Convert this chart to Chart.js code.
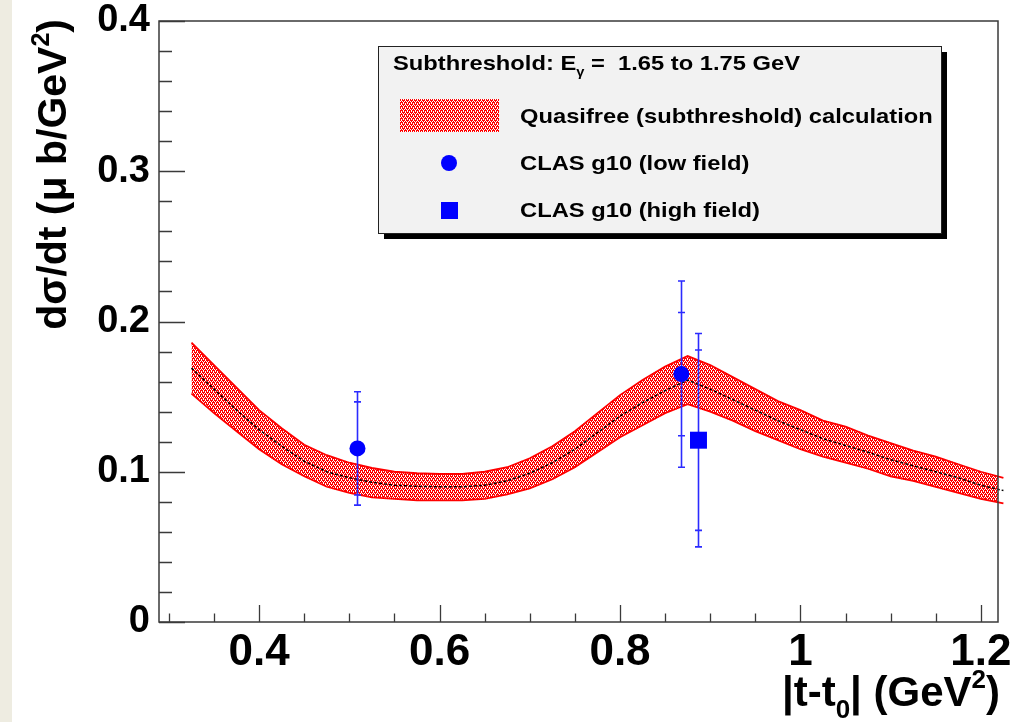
<!DOCTYPE html>
<html>
<head>
<meta charset="utf-8">
<script src="https://cdn.jsdelivr.net/npm/chart.js@4.4.1/dist/chart.umd.min.js"></script>
<style>
  html, body { margin: 0; padding: 0; }
  body {
    width: 1021px; height: 722px; overflow: hidden;
    background: linear-gradient(to right, #eeece1 0, #eeece1 12px, #ffffff 12px);
  }
  canvas { position: absolute; left: 0; top: 0; }
</style>
</head>
<body>
<canvas id="xsec" width="1021" height="722"></canvas>
<script>
// Quasifree (subthreshold) calculation: |t - t0| grid, central curve and band edges
const bandT = [0.325, 0.35, 0.375, 0.40, 0.425, 0.45, 0.475, 0.50, 0.525, 0.55, 0.575, 0.60,
  0.625, 0.65, 0.675, 0.70, 0.725, 0.75, 0.775, 0.80, 0.825, 0.85, 0.875, 0.90, 0.925,
  0.95, 0.975, 1.00, 1.025, 1.05, 1.075, 1.10, 1.125, 1.15, 1.175, 1.20, 1.225];
const bandCentre = [0.169, 0.155, 0.141, 0.128, 0.117, 0.107, 0.100, 0.096, 0.093, 0.091, 0.0903, 0.090,
  0.090, 0.091, 0.094, 0.099, 0.106, 0.115, 0.126, 0.137, 0.146, 0.154, 0.161, 0.155, 0.148,
  0.141, 0.134, 0.128, 0.122, 0.1175, 0.113, 0.108, 0.104, 0.100, 0.096, 0.091, 0.0875];
const bandUpper = [0.186, 0.171, 0.156, 0.141, 0.129, 0.118, 0.111, 0.106, 0.1025, 0.100, 0.099, 0.0985,
  0.0985, 0.100, 0.103, 0.109, 0.117, 0.127, 0.139, 0.151, 0.161, 0.170, 0.177, 0.171, 0.163,
  0.155, 0.147, 0.141, 0.134, 0.130, 0.124, 0.119, 0.114, 0.110, 0.105, 0.100, 0.096];
const bandLower = [0.152, 0.139, 0.127, 0.115, 0.105, 0.097, 0.090, 0.086, 0.083, 0.082, 0.081, 0.081,
  0.081, 0.082, 0.085, 0.089, 0.095, 0.103, 0.113, 0.123, 0.131, 0.139, 0.145, 0.140, 0.134,
  0.127, 0.121, 0.115, 0.110, 0.106, 0.102, 0.097, 0.094, 0.090, 0.086, 0.082, 0.079];

// CLAS g10 measurements: inner bars = statistical, outer bars = total uncertainty
const lowFieldT = [0.509, 0.868];
const lowFieldXsec = [0.1155, 0.165];
const lowFieldStat = [0.031, 0.041];
const lowFieldTotal = [0.0377, 0.062];
const highFieldT = [0.887];
const highFieldXsec = [0.121];
const highFieldStat = [0.060];
const highFieldTotal = [0.071];

// Axis ranges and labelled ticks
const xRange = [0.289, 1.219];
const yRange = [0, 0.4];
const xTickValues = [0.4, 0.6, 0.8, 1.0, 1.2];
const xTickLabels = ['0.4', '0.6', '0.8', '1', '1.2'];
const yTickValues = [0, 0.1, 0.2, 0.3, 0.4];
const yTickLabels = ['0', '0.1', '0.2', '0.3', '0.4'];

const legendTitle = [['Subthreshold: E', 0], ['\u03b3', -1], [' =  1.65 to 1.75 GeV', 0]];
const legendEntries = ['Quasifree (subthreshold) calculation', 'CLAS g10 (low field)', 'CLAS g10 (high field)'];
const xTitle = [['|t-t', 0], ['0', -1], ['| (GeV', 0], ['2', 1], [')', 0]];
const yTitle = [['d\u03c3/dt (\u03bc b/GeV', 0], ['2', 1], [')', 0]];

const BOLD = '"Liberation Sans", Arial, Helvetica, sans-serif';
const BLUE = '#0000ff';
const AXIS = '#3a3a3a';

// Red/white stipple used for the band fill
function makeStipple() {
  const c = document.createElement('canvas');
  c.width = 4; c.height = 4;
  const g = c.getContext('2d');
  g.fillStyle = '#ff0000';
  g.fillRect(0, 0, 4, 4);
  g.fillStyle = '#ffffff';
  [[0, 1], [2, 1], [1, 3], [3, 3], [1, 0], [3, 2]].forEach(([x, y]) => g.fillRect(x, y, 1, 1));
  return g.createPattern(c, 'repeat');
}
const stipple = makeStipple();

const toPts = (xs, ys) => xs.map((x, i) => ({ x: x, y: ys[i] }));

// Draw a run of text segments; level -1 = subscript, 1 = superscript
function drawRich(ctx, segs, x, y, size, align) {
  const parts = segs.map(([t, lvl]) => {
    const s = lvl === 0 ? size : Math.round(size * 0.62);
    ctx.font = 'bold ' + s + 'px ' + BOLD;
    return { t, lvl, s, w: ctx.measureText(t).width };
  });
  const total = parts.reduce((a, p) => a + p.w, 0);
  let cx = align === 'right' ? x - total : x;
  ctx.textAlign = 'left';
  ctx.textBaseline = 'alphabetic';
  parts.forEach(p => {
    ctx.font = 'bold ' + p.s + 'px ' + BOLD;
    const dy = p.lvl === -1 ? size * 0.28 : (p.lvl === 1 ? -size * 0.42 : 0);
    ctx.fillText(p.t, cx, y + dy);
    cx += p.w;
  });
}

// Frame, inward major/minor ticks and the axis titles
const framePlugin = {
  id: 'frame',
  afterDatasetsDraw(chart) {
    const { ctx, chartArea: a, scales: { x, y } } = chart;
    ctx.save();
    ctx.strokeStyle = AXIS;
    ctx.lineWidth = 1.5;
    ctx.strokeRect(a.left, a.top, a.right - a.left, a.bottom - a.top);
    ctx.lineWidth = 1.3;
    ctx.beginPath();
    for (let k = 6; k <= 24; k++) {
      const px = Math.round(x.getPixelForValue(k * 0.05)) + 0.5;
      const len = k % 4 === 0 ? 17 : 8.5;
      ctx.moveTo(px, a.bottom); ctx.lineTo(px, a.bottom - len);
    }
    for (let k = 0; k <= 20; k++) {
      const py = Math.round(y.getPixelForValue(k * 0.02)) + 0.5;
      const len = k % 5 === 0 ? 26 : 13;
      ctx.moveTo(a.left, py); ctx.lineTo(a.left + len, py);
    }
    ctx.stroke();

    ctx.fillStyle = '#000';
    drawRich(ctx, xTitle, 1000, 706, 42, 'right');
    ctx.translate(66, 19);
    ctx.rotate(-Math.PI / 2);
    drawRich(ctx, yTitle, 0, 0, 41, 'right');
    ctx.restore();
  }
};

// Two-level error bars for the CLAS points
function drawErrors(ctx, xs, ys, stat, tot, sx, sy) {
  xs.forEach((t, i) => {
    const px = Math.round(sx.getPixelForValue(t)) + 0.5;
    const yHi = sy.getPixelForValue(ys[i] + tot[i]);
    const yLo = sy.getPixelForValue(ys[i] - tot[i]);
    const sHi = sy.getPixelForValue(ys[i] + stat[i]);
    const sLo = sy.getPixelForValue(ys[i] - stat[i]);
    ctx.beginPath();
    ctx.moveTo(px, yHi); ctx.lineTo(px, yLo);
    [yHi, yLo, sHi, sLo].forEach(v => { ctx.moveTo(px - 3.5, v); ctx.lineTo(px + 3.5, v); });
    ctx.stroke();
  });
}
const errorPlugin = {
  id: 'errors',
  beforeDatasetDraw(chart, args) {
    if (args.index !== 1) return;
    const { ctx, scales: { x, y } } = chart;
    ctx.save();
    ctx.strokeStyle = '#2b2bff';
    ctx.lineWidth = 1.6;
    drawErrors(ctx, lowFieldT, lowFieldXsec, lowFieldStat, lowFieldTotal, x, y);
    drawErrors(ctx, highFieldT, highFieldXsec, highFieldStat, highFieldTotal, x, y);
    ctx.restore();
  }
};

// Boxed legend with drop shadow
const legendPlugin = {
  id: 'boxLegend',
  afterDraw(chart) {
    const ctx = chart.ctx;
    const bx = 378, by = 46, bw = 563, bh = 187;
    ctx.save();
    ctx.fillStyle = '#000';
    ctx.fillRect(bx + 6, by + 6, bw, bh);
    ctx.fillStyle = '#f2f2f2';
    ctx.fillRect(bx, by, bw, bh);
    ctx.strokeStyle = '#222';
    ctx.lineWidth = 1;
    ctx.strokeRect(bx + 0.5, by + 0.5, bw, bh);

    ctx.fillStyle = '#000';
    ctx.save();
    ctx.translate(393, 70);
    ctx.scale(1.13, 1);
    drawRich(ctx, legendTitle, 0, 0, 21, 'left');
    ctx.restore();

    ctx.fillStyle = stipple;
    ctx.fillRect(400, 99, 99, 33);
    ctx.fillStyle = BLUE;
    ctx.beginPath(); ctx.arc(449, 163, 8, 0, Math.PI * 2); ctx.fill();
    ctx.fillRect(441, 202, 17, 17);

    ctx.fillStyle = '#000';
    [123, 170, 217].forEach((yy, i) => {
      ctx.save();
      ctx.translate(520, yy);
      ctx.scale(1.13, 1);
      drawRich(ctx, [[legendEntries[i], 0]], 0, 0, 21, 'left');
      ctx.restore();
    });
    ctx.restore();
  }
};

new Chart(document.getElementById('xsec'), {
  type: 'scatter',
  data: {
    datasets: [
      { label: legendEntries[1], data: toPts(lowFieldT, lowFieldXsec), pointStyle: 'circle',
        pointRadius: 8, backgroundColor: BLUE, borderColor: BLUE, borderWidth: 0 },
      { label: legendEntries[2], data: toPts(highFieldT, highFieldXsec), pointStyle: 'rect',
        pointRadius: 12, backgroundColor: BLUE, borderColor: BLUE, borderWidth: 0 },
      { label: 'centre', data: toPts(bandT, bandCentre), showLine: true, pointRadius: 0,
        borderColor: '#000', borderWidth: 1.5, borderDash: [3, 2], fill: false,
        clip: { left: 0, top: 0, right: 6, bottom: 0 } },
      { label: 'lower', data: toPts(bandT, bandLower), showLine: true, pointRadius: 0,
        borderColor: '#ff0000', borderWidth: 1.8, fill: false,
        clip: { left: 0, top: 0, right: 6, bottom: 0 } },
      { label: legendEntries[0], data: toPts(bandT, bandUpper), showLine: true, pointRadius: 0,
        borderColor: '#ff0000', borderWidth: 1.8, fill: '-1', backgroundColor: stipple,
        clip: { left: 0, top: 0, right: 6, bottom: 0 } }
    ]
  },
  options: {
    responsive: false,
    animation: false,
    layout: { padding: { left: 0, top: 21, right: 23, bottom: 0 } },
    plugins: {
      legend: { display: false },
      tooltip: { enabled: false },
      filler: { drawTime: 'beforeDatasetsDraw' }
    },
    scales: {
      x: {
        type: 'linear', min: xRange[0], max: xRange[1],
        afterBuildTicks: s => { s.ticks = xTickValues.map(v => ({ value: v })); },
        afterFit: s => { s.height = 100; s.paddingLeft = 0; s.paddingRight = 0; },
        grid: { display: false, drawTicks: false },
        border: { display: false },
        ticks: {
          padding: 4, color: '#000', maxRotation: 0, autoSkip: false,
          font: { family: BOLD, size: 44, weight: 'bold' },
          callback: v => xTickLabels[xTickValues.indexOf(v)]
        }
      },
      y: {
        type: 'linear', min: yRange[0], max: yRange[1],
        afterBuildTicks: s => { s.ticks = yTickValues.map(v => ({ value: v })); },
        afterFit: s => { s.width = 159; s.paddingTop = 0; s.paddingBottom = 0; },
        grid: { display: false, drawTicks: false },
        border: { display: false },
        ticks: {
          padding: 9, color: '#000', autoSkip: false,
          font: { family: BOLD, size: 38, weight: 'bold' },
          callback: v => yTickLabels[yTickValues.indexOf(v)]
        }
      }
    }
  },
  plugins: [framePlugin, errorPlugin, legendPlugin]
});
</script>
</body>
</html>
